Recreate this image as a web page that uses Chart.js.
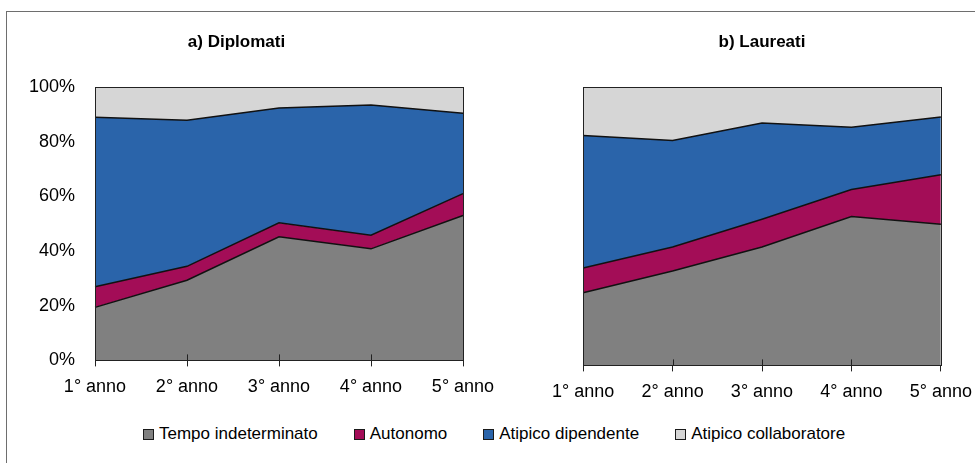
<!DOCTYPE html>
<html>
<head>
<meta charset="utf-8">
<script src="https://cdn.jsdelivr.net/npm/chart.js@4.4.1/dist/chart.umd.min.js"></script>
<style>
  body { margin: 0; background: #fff; width: 975px; height: 463px; overflow: hidden; position: relative;
         font-family: "Liberation Sans", Arial, sans-serif; }
  .frame { position: absolute; left: 6px; top: 11px; width: 1000px; height: 500px;
           border-left: 1px solid #6e6e6e; border-top: 1px solid #6e6e6e; }
  #cDip { position: absolute; left: 10px; top: 0; }
  #cLau { position: absolute; left: 542px; top: 0; }
  #legend { position: absolute; left: 143px; top: 424px; display: flex; align-items: center;
            font-size: 17px; color: #000; white-space: nowrap; }
  .lg-item { display: flex; align-items: center; margin-right: 36px; }
  .lg-box { width: 9px; height: 9px; border: 1px solid #1a1a1a; margin-right: 5px; }
</style>
</head>
<body>
<div class="frame"></div>
<canvas id="cDip" width="564" height="408"></canvas>
<canvas id="cLau" width="440" height="413"></canvas>
<div id="legend"></div>

<script>
// ── Data (shares in %, stacked to 100) ──────────────────────────────────────
const years = ['1° anno', '2° anno', '3° anno', '4° anno', '5° anno'];
const seriesNames  = ['Tempo indeterminato', 'Autonomo', 'Atipico dipendente', 'Atipico collaboratore'];
const seriesColors = ['#808080', '#A30D57', '#2A64AA', '#D6D6D6'];

// a) Diplomati
const dipTempo  = [19.4, 29.3, 45.2, 40.8, 53.0];
const dipAuton  = [7.5, 5.1, 5.1, 5.0, 8.0];
const dipAtDip  = [62.0, 53.4, 42.0, 47.6, 29.4];
const dipAtColl = [11.1, 12.2, 7.7, 6.6, 9.6];

// b) Laureati
const lauTempo  = [26.1, 33.9, 42.5, 53.5, 50.7];
const lauAuton  = [8.9, 8.6, 10.0, 9.7, 17.8];
const lauAtDip  = [47.6, 38.3, 34.6, 22.3, 20.7];
const lauAtColl = [17.4, 19.2, 12.9, 14.5, 10.8];

const yTicks = [0, 20, 40, 60, 80, 100];

Chart.defaults.font.family = '"Liberation Sans", Arial, sans-serif';
Chart.defaults.color = '#000';

// plot frame + tick marks that reach into the plot, like the original
const plotFrame = {
  id: 'plotFrame',
  afterDraw(chart) {
    const { ctx, chartArea: a } = chart;
    const x = chart.scales.x;
    ctx.save();
    ctx.strokeStyle = '#222';
    ctx.lineWidth = 1;
    ctx.strokeRect(Math.round(a.left) + 0.5, Math.round(a.top) + 0.5,
                   Math.round(a.right - a.left), Math.round(a.bottom - a.top));
    ctx.beginPath();
    x.ticks.forEach((_, i) => {
      const px = Math.round(x.getPixelForTick(i)) + 0.5;
      ctx.moveTo(px, a.bottom - 6);
      ctx.lineTo(px, a.bottom);
    });
    ctx.stroke();
    ctx.restore();
  }
};

function makeDatasets(vals) {
  return vals.map((v, i) => ({
    label: seriesNames[i],
    data: v,
    backgroundColor: seriesColors[i],
    borderColor: '#111',
    borderWidth: 1.5,
    pointRadius: 0,
    tension: 0,
    fill: i === 0 ? 'origin' : '-1'
  }));
}

function makeChart(id, title, vals, showY, padding) {
  return new Chart(document.getElementById(id), {
    type: 'line',
    data: { labels: years, datasets: makeDatasets(vals) },
    plugins: [plotFrame],
    options: {
      responsive: false,
      animation: false,
      devicePixelRatio: 1,
      layout: { padding },
      plugins: {
        legend: { display: false },
        tooltip: { enabled: false },
        title: {
          display: true, text: title, color: '#000',
          font: { size: 17, weight: 'bold' },
          padding: { top: 32, bottom: 34.6 }
        }
      },
      scales: {
        x: {
          offset: false,
          grid: { display: true, drawOnChartArea: false, drawTicks: true, tickLength: 6, color: '#222' },
          border: { display: false },
          ticks: { font: { size: 18 }, color: '#000', padding: 10, maxRotation: 0, autoSkip: false }
        },
        y: {
          display: showY,
          stacked: true,
          min: 0, max: 100,
          afterBuildTicks: s => { s.ticks = yTicks.map(v => ({ value: v })); },
          afterFit: s => { if (showY) s.width = 85; },
          grid: { display: false, drawTicks: false },
          border: { display: false },
          ticks: { font: { size: 18 }, color: '#000', padding: 20, callback: v => v + '%' }
        }
      }
    }
  });
}

makeChart('cDip', 'a) Diplomati', [dipTempo, dipAuton, dipAtDip, dipAtColl], true,
          { left: 0, right: 111, top: 0, bottom: 0 });
makeChart('cLau', 'b) Laureati', [lauTempo, lauAuton, lauAtDip, lauAtColl], false,
          { left: 0, right: 0, top: 0, bottom: 0 });

// shared legend under both panels
document.getElementById('legend').innerHTML = seriesNames.map((n, i) =>
  `<span class="lg-item"><span class="lg-box" style="background:${seriesColors[i]}"></span>${n}</span>`
).join('');
</script>
</body>
</html>
